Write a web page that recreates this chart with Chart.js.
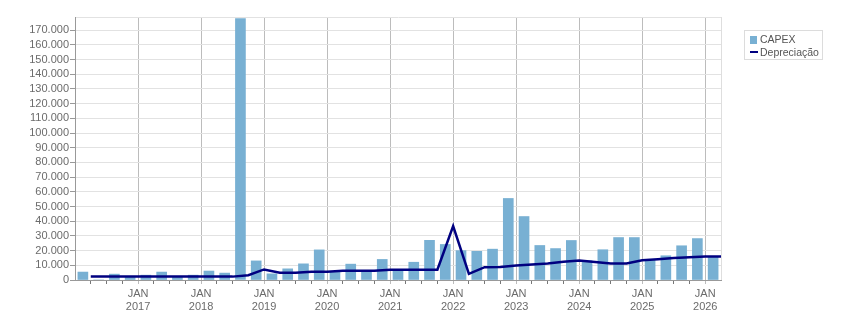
<!DOCTYPE html>
<html>
<head>
<meta charset="utf-8">
<script src="https://cdn.jsdelivr.net/npm/chart.js@4.4.1/dist/chart.umd.min.js"></script>
<style>
  body { margin: 0; background: #fff; }
  #caja { position: relative; width: 851px; height: 313px; }
  #leyenda {
    position: absolute; left: 744px; top: 30px; width: 77px; height: 28px;
    border: 1px solid #dcdcdc; font: 10.5px "Liberation Sans", Arial, sans-serif; color: #555;
  }
  #leyenda div { position: absolute; left: 15px; white-space: nowrap; }
  #leyenda span { position: absolute; }
</style>
</head>
<body>
<div id="caja">
  <canvas id="grafico" width="851" height="313"></canvas>
  <div id="leyenda">
    <span style="left:5px;top:5px;width:7px;height:8px;background:#78b0d3"></span>
    <div style="top:2px">CAPEX</div>
    <span style="left:5px;top:20px;width:8px;height:2px;background:#000080"></span>
    <div style="top:15px">Depreciação</div>
  </div>
</div>
<script>
// Trimestres (1T16 ... 1T26)
const trimestres = ['1T16','2T16','3T16','4T16','1T17','2T17','3T17','4T17','1T18','2T18','3T18','4T18',
  '1T19','2T19','3T19','4T19','1T20','2T20','3T20','4T20','1T21','2T21','3T21','4T21',
  '1T22','2T22','3T22','4T22','1T23','2T23','3T23','4T23','1T24','2T24','3T24','4T24',
  '1T25','2T25','3T25','4T25','1T26'];

// CAPEX por trimestre
const capex = [5400, 0, 4000, 2000, 3300, 5400, 2000, 3300, 6100, 4700, 178000, 13000,
  4200, 7600, 11000, 20500, 5200, 10800, 6000, 14000, 6500, 12100, 27000, 24200,
  20000, 19500, 21000, 55500, 43200, 23500, 21400, 26900, 13100, 20600, 28900, 28900,
  14000, 16500, 23300, 28200, 15800];

// Depreciação (fim de cada trimestre)
const depreciacao = [2300, 2300, 2300, 2300, 2300, 2300, 2300, 2300, 2300, 2300, 3300, 7200,
  5000, 5000, 5600, 5600, 6300, 6300, 6300, 7000, 7000, 7000, 7000, 36700,
  4200, 8700, 8800, 9900, 10500, 11300, 12400, 13300, 12300, 11300, 11300, 13500,
  14200, 15000, 15500, 16000, 16000];

// Etiquetas de los años
const anos = ['2017','2018','2019','2020','2021','2022','2023','2024','2025','2026'];

// Eje Y
const yMax = 179000;
const yPaso = 10000;

const fuente = { family: '"Liberation Sans", Arial, sans-serif', size: 11, lineHeight: 1.15 };
const nTrim = trimestres.length;

function formatoMiles(v) {
    return String(v).replace(/\B(?=(\d{3})+(?!\d))/g, '.');
}

function valorTick(c) {
    return c && c.tick ? c.tick.value : -1;
}

const ctx = document.getElementById('grafico').getContext('2d');
new Chart(ctx, {
    type: 'bar',
    data: {
        datasets: [
            {
                type: 'line',
                label: 'Depreciação',
                data: depreciacao.map((v, i) => ({ x: i + 1, y: v })),
                borderColor: '#000080',
                borderWidth: 2.5,
                pointRadius: 0,
                tension: 0,
                order: 0
            },
            {
                label: 'CAPEX',
                data: capex.map((v, i) => ({ x: i + 0.5, y: v })),
                backgroundColor: '#78b0d3',
                barThickness: 10,
                order: 1
            }
        ]
    },
    options: {
        responsive: false,
        animation: false,
        layout: { padding: { left: 0, right: 130, top: 17, bottom: 0 } },
        plugins: { legend: { display: false }, tooltip: { enabled: false } },
        scales: {
            x: {
                type: 'linear',
                min: 0,
                max: nTrim,
                offset: false,
                afterBuildTicks: scale => {
                    scale.ticks = Array.from({ length: nTrim + 1 }, (_, i) => ({ value: i }));
                },
                afterFit: scale => { scale.height = 33; },
                border: { color: '#999' },
                grid: {
                    offset: false,
                    color: c => {
                        const v = valorTick(c);
                        if (v === nTrim) return '#dedede';
                        return v % 4 === 0 && v > 0 ? '#bcbcbc' : 'rgba(0,0,0,0)';
                    },
                    tickColor: c => {
                        const v = valorTick(c);
                        if (v <= 0 || v === nTrim) return 'rgba(0,0,0,0)';
                        return v % 4 === 0 ? '#bcbcbc' : '#777';
                    },
                    tickLength: 4
                },
                ticks: {
                    autoSkip: false,
                    maxRotation: 0,
                    padding: 4,
                    color: '#6b6b6b',
                    font: fuente,
                    callback: v => (v % 4 === 0 && v > 0 && v < nTrim) ? ['JAN', anos[v / 4 - 1]] : ''
                }
            },
            y: {
                min: 0,
                max: yMax,
                afterBuildTicks: scale => {
                    const t = [];
                    for (let v = 0; v <= yMax; v += yPaso) t.push({ value: v });
                    t.push({ value: yMax });
                    scale.ticks = t;
                },
                afterFit: scale => { scale.width = 75; },
                border: { color: '#999' },
                grid: {
                    color: '#e2e2e2',
                    tickColor: c => valorTick(c) % yPaso === 0 ? '#999' : 'rgba(0,0,0,0)',
                    tickLength: 5
                },
                ticks: {
                    autoSkip: false,
                    padding: 1,
                    color: '#6b6b6b',
                    font: fuente,
                    callback: v => v % yPaso === 0 ? formatoMiles(v) : ''
                }
            }
        }
    }
});
</script>
</body>
</html>
